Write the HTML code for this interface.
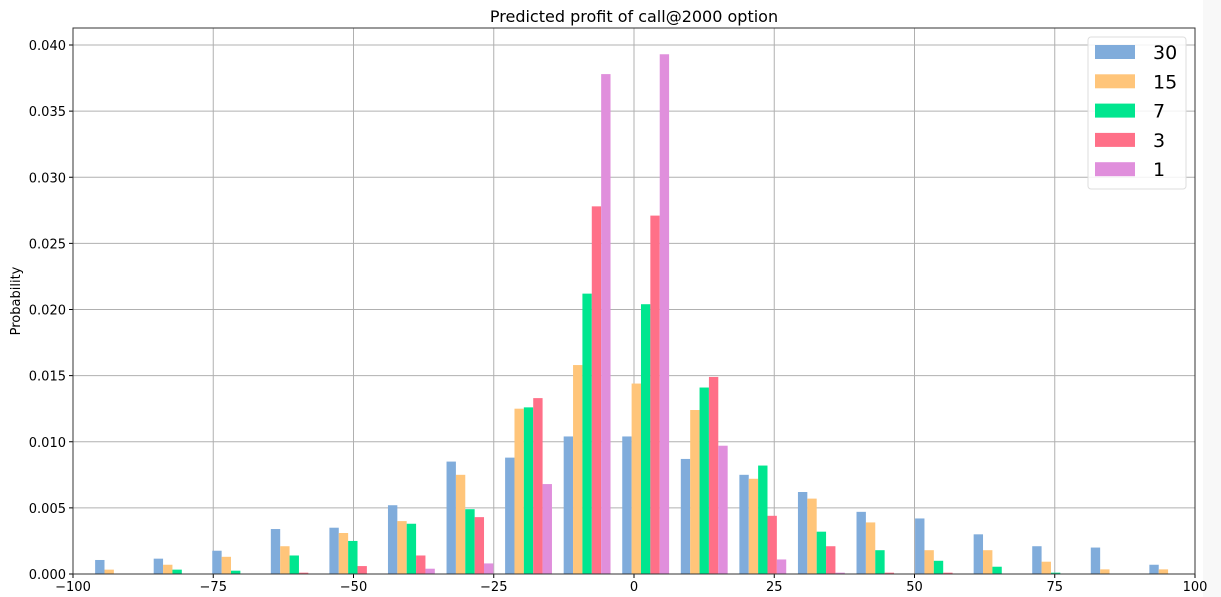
<!DOCTYPE html>
<html><head><meta charset="utf-8"><style>
html,body{margin:0;padding:0;background:#fff;}
svg{display:block;font-family:"DejaVu Sans","Liberation Sans",sans-serif;}
</style></head><body>
<svg id="chart" width="1221" height="597">
<rect x="1203" y="0" width="18" height="597" fill="#f8f8f8"/>
<text x="634" y="22" text-anchor="middle" font-size="16" fill="#000">Predicted profit of call@2000 option</text>
<text transform="translate(20,301) rotate(-90)" text-anchor="middle" font-size="13" fill="#000">Probability</text>
<g id="grid"></g><g id="bars"></g><g id="axes"></g><g id="legend"></g>
</svg>
<script>
const seriesNames = ["30","15","7","3","1"];
const colors = ["#80acdb","#ffc57a","#00e68f","#ff7088","#e08fdc"];
const binStarts = [-97.1,-86.66,-76.22,-65.78,-55.34,-44.9,-34.46,-24.02,-13.58,-3.14,7.3,17.74,28.18,38.62,49.06,59.5,69.94,80.38,90.82];
const s30 = [0.00106,0.00116,0.00176,0.0034,0.0035,0.0052,0.0085,0.0088,0.0104,0.0104,0.0087,0.0075,0.0062,0.0047,0.0042,0.003,0.0021,0.002,0.0007];
const s15 = [0.00033,0.0007,0.0013,0.0021,0.0031,0.0040,0.0075,0.0125,0.0158,0.0144,0.0124,0.0072,0.0057,0.0039,0.0018,0.0018,0.00093,0.00035,0.00035];
const s7 = [0,0.00033,0.00025,0.0014,0.0025,0.0038,0.0049,0.0126,0.0212,0.0204,0.0141,0.0082,0.0032,0.0018,0.001,0.00055,0.0001,0,0];
const s3 = [0,0,0,0.0001,0.0006,0.0014,0.0043,0.0133,0.0278,0.0271,0.0149,0.0044,0.0021,0.0001,0.0001,0,0,0,0];
const s1 = [0,0,0,0,0,0.0004,0.0008,0.0068,0.0378,0.0393,0.0097,0.0011,0.0001,0,0,0,0,0,0];
const xTicks = [-100,-75,-50,-25,0,25,50,75,100];
const yTicks = [0,0.005,0.01,0.015,0.02,0.025,0.03,0.035,0.04];
const binWidth = 10.44;
const NS="http://www.w3.org/2000/svg";
const L=73,R=1195,T=28,B=574;
const xs=v=>L+(v+100)/200*(R-L);
const ys=v=>B-v/0.04*(B-45);
function mk(t,a,p){const e=document.createElementNS(NS,t);for(const k in a)e.setAttribute(k,a[k]);p.appendChild(e);return e;}
const grid=document.getElementById('grid'),bars=document.getElementById('bars'),axes=document.getElementById('axes'),leg=document.getElementById('legend');
xTicks.forEach(t=>{
  const l=mk('line',{x1:xs(t),x2:xs(t),y1:T,y2:B,stroke:'#b0b0b0','stroke-width':1},grid);
  
  
  const tk=mk('line',{x1:xs(t),x2:xs(t),y1:B,y2:B+4,stroke:'#000'},axes);
  
  
  const tx=mk('text',{x:xs(t),y:B+17,'text-anchor':'middle','font-size':13},axes);
  tx.textContent=(t<0?'\u2212'+(-t):t);
  
  
});
yTicks.forEach(t=>{
  const l=mk('line',{x1:L,x2:R,y1:ys(t),y2:ys(t),stroke:'#b0b0b0','stroke-width':1},grid);
  
  
  const tk=mk('line',{x1:L-4,x2:L,y1:ys(t),y2:ys(t),stroke:'#000'},axes);
  
  
  const tx=mk('text',{x:L-7,y:ys(t)+5,'text-anchor':'end','font-size':13},axes);
  tx.textContent=t.toFixed(3);
  
  
});
const series=[s30,s15,s7,s3,s1];
const bw=binWidth*0.16;
series.forEach((s,si)=>{
  s.forEach((v,i)=>{
    if(v<=0)return;
    const x0=binStarts[i]+binWidth*0.1+si*bw;
    const r=mk('rect',{x:xs(x0),y:ys(v),width:xs(x0+bw)-xs(x0),height:ys(0)-ys(v),fill:colors[si]},bars);
    
    
  });
});
const fr=mk('rect',{x:L,y:T,width:R-L,height:B-T,fill:'none',stroke:'#333','stroke-width':1},axes);


const lb=mk('rect',{x:1088,y:37,width:98,height:152,rx:3,fill:'#fff','fill-opacity':0.85,stroke:'#ddd'},leg);


seriesNames.forEach((n,i)=>{
  const cy=52+i*29.3;
  const p=mk('rect',{x:1095,y:cy-7,width:40,height:14,fill:colors[i]},leg);
  
  
  const t=mk('text',{x:1153,y:cy+7,'font-size':19},leg);
  t.textContent=n;
  
  
});
</script>
</body></html>
